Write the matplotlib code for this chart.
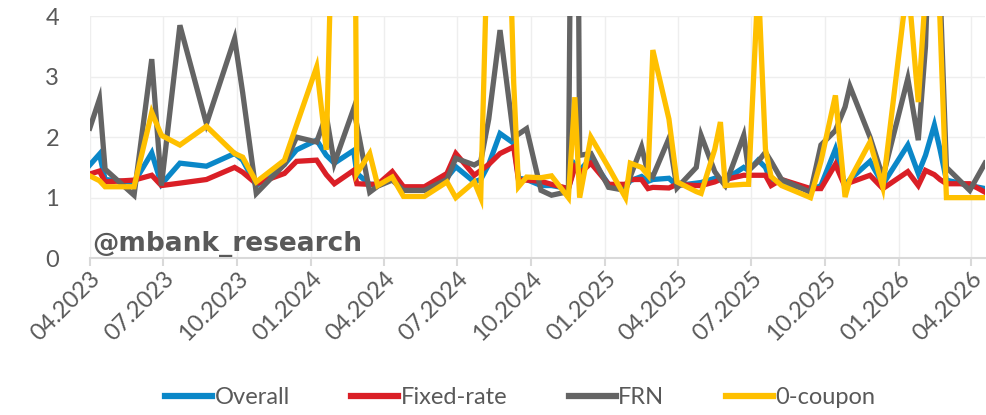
import matplotlib
matplotlib.use('Agg')
import matplotlib.pyplot as plt
import matplotlib.dates as mdates
import pandas as pd

# auction dates and bid-to-cover ratios
dates = ['2023-04-01', '2023-04-13', '2023-04-20', '2023-05-26', '2023-06-17', '2023-06-29',
         '2023-07-22', '2023-08-24', '2023-09-28', '2023-10-08', '2023-10-25', '2023-11-29',
         '2023-12-14', '2024-01-08', '2024-01-20', '2024-01-30', '2024-02-23', '2024-02-27',
         '2024-03-14', '2024-03-24', '2024-04-11', '2024-04-25', '2024-05-21', '2024-06-18',
         '2024-06-29', '2024-07-22', '2024-07-30', '2024-08-09', '2024-08-23', '2024-09-09',
         '2024-09-15', '2024-09-25', '2024-10-13', '2024-10-26', '2024-11-16', '2024-11-24',
         '2024-11-30', '2024-12-14', '2025-01-05', '2025-01-26', '2025-02-01', '2025-02-15',
         '2025-02-23', '2025-03-01', '2025-03-21', '2025-03-31', '2025-04-24', '2025-04-30',
         '2025-05-17', '2025-05-24', '2025-05-30', '2025-06-22', '2025-06-28', '2025-07-10',
         '2025-07-19', '2025-07-26', '2025-08-08', '2025-09-13', '2025-09-26', '2025-10-14',
         '2025-10-26', '2025-11-01', '2025-11-26', '2025-12-12', '2026-01-12', '2026-01-25',
         '2026-02-03', '2026-02-14', '2026-02-21', '2026-03-01', '2026-03-30', '2026-04-18']

overall = [1.54, 1.72, 1.30, 1.25, 1.74, 1.22, 1.57, 1.52, 1.73, 1.62, 1.20, 1.55,
           1.79, 1.95, 1.70, 1.57, 1.78, 1.40, 1.22, 1.22, 1.35, 1.15, 1.15, 1.33,
           1.51, 1.26, 1.30, 1.55, 2.06, 1.90, 1.32, 1.30, 1.20, 1.20, 1.15, 1.55,
           1.45, 1.65, 1.22, 1.18, 1.28, 1.35, 1.27, 1.30, 1.32, 1.20, 1.24, 1.25,
           1.32, 1.30, 1.30, 1.50, 1.45, 1.62, 1.50, 1.27, 1.25, 1.12, 1.20, 1.80,
           1.20, 1.30, 1.60, 1.22, 1.87, 1.40, 1.70, 2.20, 1.80, 1.29, 1.20, 1.15]

fixed_rate = [1.39, 1.44, 1.26, 1.29, 1.37, 1.20, 1.24, 1.30, 1.50, 1.42, 1.23, 1.40,
              1.60, 1.62, 1.38, 1.23, 1.45, 1.23, 1.22, 1.22, 1.43, 1.18, 1.18, 1.40,
              1.73, 1.37, 1.45, 1.55, 1.73, 1.84, 1.29, 1.29, 1.27, 1.22, 1.15, 1.50,
              1.40, 1.57, 1.22, 1.22, 1.30, 1.30, 1.15, 1.17, 1.16, 1.22, 1.20, 1.20,
              1.26, 1.30, 1.30, 1.37, 1.37, 1.37, 1.37, 1.20, 1.30, 1.15, 1.15, 1.55,
              1.18, 1.25, 1.37, 1.15, 1.43, 1.20, 1.45, 1.38, 1.30, 1.23, 1.23, 1.09]

frn = [2.15, 2.63, 1.47, 1.04, 3.29, 1.20, 3.85, 2.22, 3.63, 2.74, 1.07, 1.55,
       2.00, 1.92, 2.36, 1.57, 2.47, 2.20, 1.09, 1.19, 1.29, 1.12, 1.12, 1.30,
       1.65, 1.54, 1.60, 2.30, 3.77, 2.00, 2.05, 2.14, 1.12, 1.04, 1.10, 14.0,
       1.70, 1.73, 1.17, 1.12, 1.35, 1.84, 1.40, 1.35, 1.98, 1.16, 1.50, 2.03,
       1.43, 1.30, 1.20, 2.03, 1.45, 1.60, 1.75, 1.60, 1.30, 1.09, 1.87, 2.11,
       2.50, 2.84, 2.00, 1.34, 2.97, 1.95, 3.50, 8.00, 4.50, 1.50, 1.12, 1.57]

zero_coupon = [1.36, 1.28, 1.18, 1.18, 2.41, 2.03, 1.87, 2.18, 1.73, 1.67, 1.26, 1.62,
               2.20, 3.16, 1.79, 7.00, 9.00, 1.40, 1.73, 1.20, 1.34, 1.02, 1.02, 1.26,
               1.00, 1.26, 1.00, 6.00, 10.8, 2.90, 1.18, 1.34, 1.33, 1.36, 1.00, 2.66,
               1.00, 2.00, 1.50, 1.00, 1.57, 1.50, 1.37, 3.44, 2.30, 1.26, 1.10, 1.07,
               1.80, 2.25, 1.20, 1.22, 1.22, 4.60, 1.80, 1.35, 1.20, 1.00, 1.60, 2.69,
               1.01, 1.30, 1.92, 1.17, 4.60, 2.58, 4.40, 6.00, 3.93, 1.00, 1.00, 1.00]

labels = ['Overall', 'Fixed-rate', 'FRN', '0-coupon']
colors = ['#0A87C8', '#DA1F26', '#646464', '#FFC000']

grey = '#595959'
plt.rcParams['font.family'] = ['Lato', 'DejaVu Sans']

x = pd.to_datetime(dates)

fig = plt.figure(figsize=(9.87, 4.15), dpi=100)
ax = fig.add_axes([0.091, 0.378, 0.907, 0.583])

for vals, lab, col in zip([overall, fixed_rate, frn, zero_coupon], labels, colors):
    ax.plot(x, vals, color=col, lw=3.8, label=lab, solid_joinstyle='miter')

ax.set_ylim(0, 4)
ax.set_yticks([0, 1, 2, 3, 4])
ax.set_xlim(pd.Timestamp('2023-04-01'), pd.Timestamp('2026-04-18'))
ax.xaxis.set_major_locator(mdates.MonthLocator(bymonth=[1, 4, 7, 10]))
ax.xaxis.set_major_formatter(mdates.DateFormatter('%m.%Y'))

ax.grid(True, color='#EEEEEE', lw=1)
ax.set_axisbelow(True)
for s in ['top', 'right', 'left']:
    ax.spines[s].set_visible(False)
ax.spines['bottom'].set_color('#D9D9D9')
ax.spines['bottom'].set_linewidth(1.5)
ax.tick_params(axis='y', length=0, labelsize=17, labelcolor=grey, pad=22)
ax.tick_params(axis='x', length=6, width=1.5, color='#D9D9D9', labelsize=17,
               labelcolor=grey, pad=1)
plt.setp(ax.get_xticklabels(), rotation=45, ha='right', rotation_mode='anchor')

ax.text(0.003, 0.03, '@mbank_research', transform=ax.transAxes, fontsize=19,
        fontweight='bold', color=grey, family='DejaVu Sans')

leg = fig.legend(loc='lower center', bbox_to_anchor=(0.527, -0.035), ncol=4, frameon=False,
                 fontsize=17, labelcolor=grey, handlelength=2.0, handletextpad=0.1,
                 columnspacing=2.6)
for h in leg.get_lines():
    h.set_linewidth(4.5)

fig.savefig('out.png', dpi=100)
